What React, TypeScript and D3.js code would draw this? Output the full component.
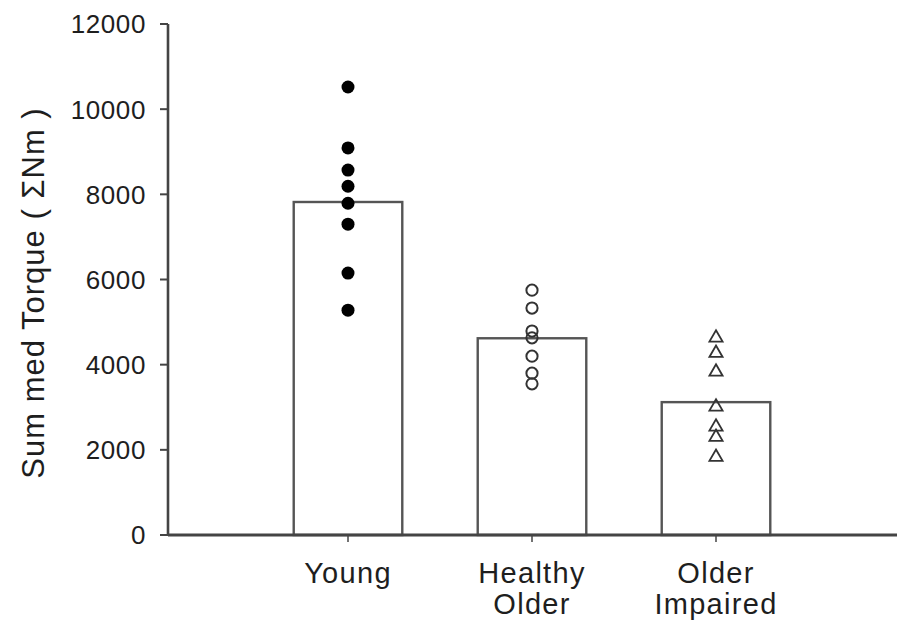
import * as d3 from "d3";

const categories = ["Young", "Healthy Older", "Older Impaired"];
const categoryLines = [["Young"], ["Healthy", "Older"], ["Older", "Impaired"]];
const barMeans = [7820, 4620, 3120];
const youngValues = [10520, 9090, 8570, 8190, 7790, 7300, 6150, 5280];
const healthyOlderValues = [5750, 5330, 4790, 4630, 4200, 3800, 3550];
const olderImpairedValues = [4630, 4270, 3830, 3010, 2540, 2300, 1830];
const yTicks = [0, 2000, 4000, 6000, 8000, 10000, 12000];

const width = 901;
const height = 625;
const axisX = 168;
const axisEnd = 897;

export default function App() {
  const y = d3.scaleLinear().domain([0, 12000]).range([535, 24]);
  const x = d3
    .scaleBand()
    .domain(categories)
    .range([256, 808])
    .paddingInner(0.41)
    .paddingOuter(0.205);

  const cx = (c: string) => (x(c) as number) + x.bandwidth() / 2;
  const triangle = d3.symbol().type(d3.symbolTriangle).size(75)();

  const ink = "#444";
  const txt = "#1e1e1e";

  return (
    <svg
      width={width}
      height={height}
      style={{ position: "absolute", left: 0, top: 0, background: "#fff" }}
      fontFamily="'Liberation Sans', Arial, sans-serif"
    >
      {/* bars */}
      {categories.map((c, i) => (
        <rect
          key={c}
          x={x(c)}
          y={y(barMeans[i])}
          width={x.bandwidth()}
          height={y(0) - y(barMeans[i])}
          fill="#fff"
          stroke="#555"
          strokeWidth={2.4}
        />
      ))}

      {/* y axis */}
      <line x1={axisX} x2={axisX} y1={y(12000)} y2={y(0)} stroke={ink} strokeWidth={2.6} />
      {yTicks.map((t) => (
        <g key={t}>
          <line x1={axisX - 8} x2={axisX} y1={y(t)} y2={y(t)} stroke={ink} strokeWidth={2} />
          <text
            x={146}
            y={y(t)}
            dy="0.36em"
            textAnchor="end"
            fontSize={26}
            letterSpacing={0.6}
            fill={txt}
          >
            {t}
          </text>
        </g>
      ))}

      {/* x axis */}
      <line x1={axisX} x2={axisEnd} y1={y(0)} y2={y(0)} stroke={ink} strokeWidth={3.2} />
      {categories.map((c, i) => (
        <g key={c}>
          <line x1={cx(c)} x2={cx(c)} y1={y(0)} y2={y(0) + 7} stroke={ink} strokeWidth={1.5} />
          {categoryLines[i].map((ln, j) => (
            <text
              key={ln}
              x={cx(c)}
              y={583 + j * 31}
              textAnchor="middle"
              fontSize={29}
              letterSpacing={1.3}
              fill={txt}
            >
              {ln}
            </text>
          ))}
        </g>
      ))}

      {/* individual values */}
      {youngValues.map((v, i) => (
        <circle key={"y" + i} cx={cx("Young")} cy={y(v)} r={6.5} fill="#000" />
      ))}
      {healthyOlderValues.map((v, i) => (
        <circle
          key={"h" + i}
          cx={cx("Healthy Older")}
          cy={y(v)}
          r={5.6}
          fill="none"
          stroke="#333"
          strokeWidth={2}
        />
      ))}
      {olderImpairedValues.map((v, i) => (
        <path
          key={"o" + i}
          d={triangle as string}
          transform={`translate(${cx("Older Impaired")},${y(v)})`}
          fill="none"
          stroke="#333"
          strokeWidth={1.8}
        />
      ))}

      {/* y axis title */}
      <text
        transform={`translate(44,293) rotate(-90)`}
        textAnchor="middle"
        fontSize={31}
        letterSpacing={1}
        fill={txt}
      >
        Sum med Torque ( ΣNm )
      </text>
    </svg>
  );
}
